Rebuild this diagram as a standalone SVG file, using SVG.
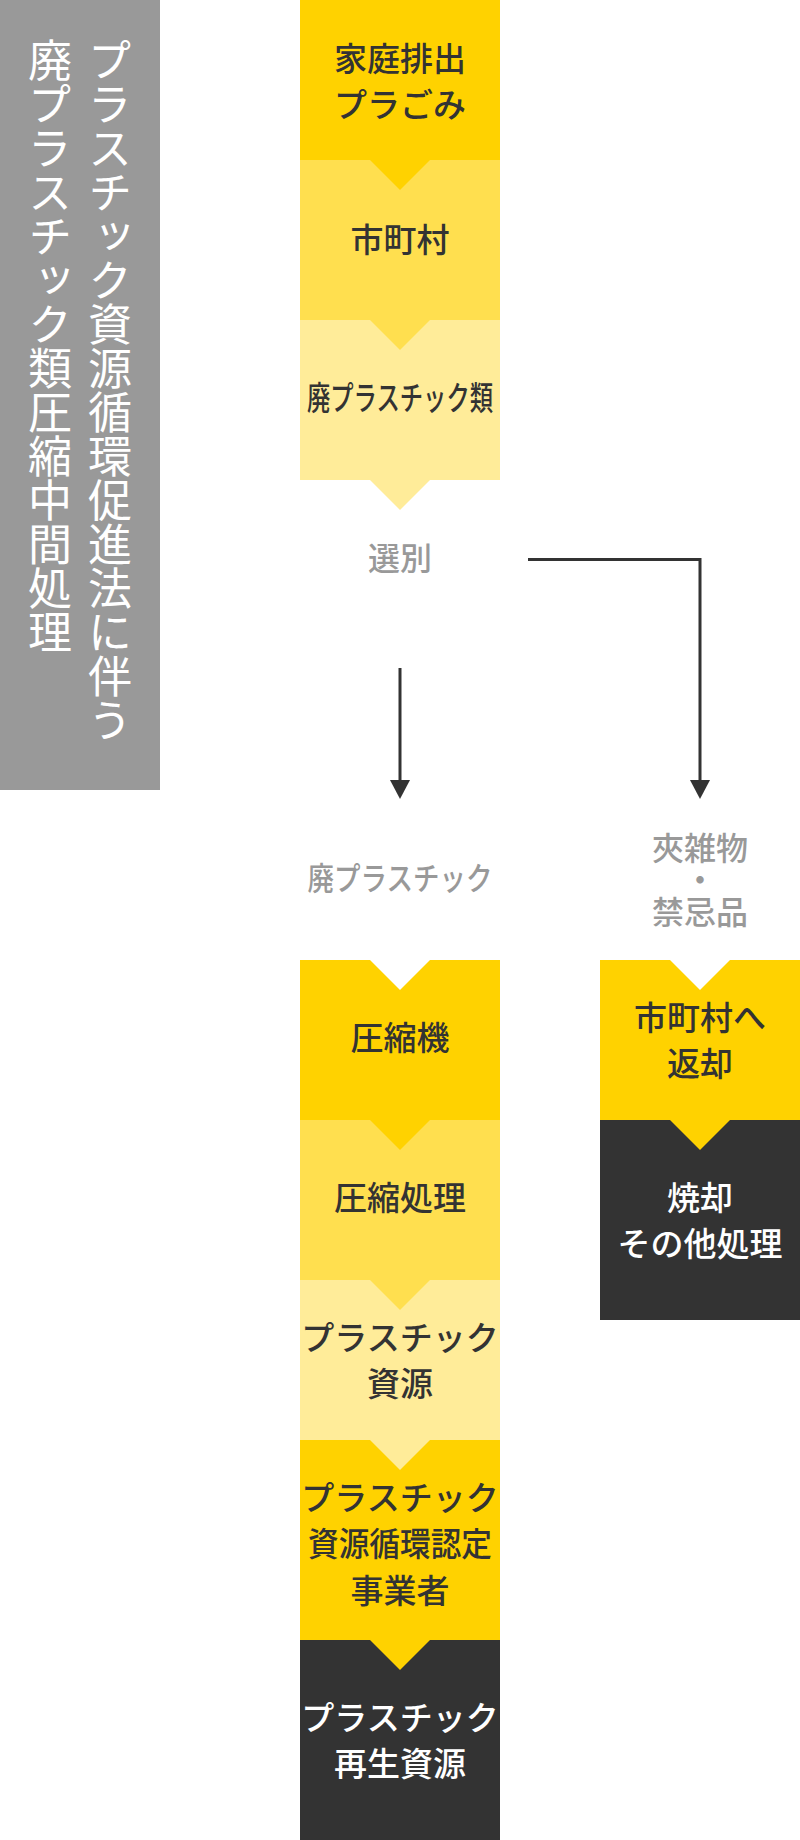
<svg xmlns="http://www.w3.org/2000/svg" width="800" height="1840" viewBox="0 0 800 1840">
  <defs>
    <style>
      .y1 { fill: #FFD200; }
      .y2 { fill: #FFDF4F; }
      .y3 { fill: #FFEC99; }
      .dk { fill: #333333; }
      .wh { fill: #FFFFFF; }
      .t { font-family: "Noto Sans CJK JP", "Noto Sans", sans-serif; font-size: 33px; font-weight: 500; text-anchor: middle; fill: #333333; }
      .tw { fill: #FFFFFF; }
      .g { font-family: "Noto Sans CJK JP", "Noto Sans", sans-serif; font-size: 32px; font-weight: 500; text-anchor: middle; fill: #999999; }
      .v { font-family: "Noto Sans CJK JP", "Noto Sans", sans-serif; font-size: 44px; font-weight: 400; fill: #FFFFFF; writing-mode: vertical-rl; }
      .ln { fill: none; stroke: #333333; stroke-width: 3; }
    </style>
  </defs>

  <g id="side-panel">
    <rect x="0" y="0" width="160" height="790" fill="#999999"/>
    <text class="v" x="110" y="38">プラスチック資源循環促進法に伴う</text>
    <text class="v" x="50" y="38">廃プラスチック類圧縮中間処理</text>
  </g>

  <g id="node-katei">
    <rect class="y1" x="300" y="0" width="200" height="160"/>
    <text class="t" x="400" y="70.5">家庭排出</text>
    <text class="t" x="400" y="116.5">プラごみ</text>
  </g>
  <g id="node-shichouson">
    <rect class="y2" x="300" y="160" width="200" height="160"/>
    <polygon class="y1" points="370,160 430,160 400,190"/>
    <text class="t" x="400" y="251.5">市町村</text>
  </g>
  <g id="node-haipura-rui">
    <rect class="y3" x="300" y="320" width="200" height="160"/>
    <polygon class="y2" points="370,320 430,320 400,350"/>
    <polygon class="y3" points="370,480 430,480 400,510"/>
    <text class="t" x="400" y="409.5" textLength="186" lengthAdjust="spacingAndGlyphs">廃プラスチック類</text>
  </g>
  <g id="node-senbetsu">
    <text class="g" x="400" y="569.5">選別</text>
  </g>
  <g id="node-haipura">
    <text class="g" x="400" y="889.5" textLength="185" lengthAdjust="spacingAndGlyphs">廃プラスチック</text>
  </g>
  <g id="node-kyozatsu">
    <text class="g" x="700" y="859.5">夾雑物</text>
    <text class="g" x="700" y="891.5">・</text>
    <text class="g" x="700" y="923.5">禁忌品</text>
  </g>
  <g id="node-asshukuki">
    <rect class="y1" x="300" y="960" width="200" height="160"/>
    <polygon class="wh" points="370,960 430,960 400,990"/>
    <text class="t" x="400" y="1050">圧縮機</text>
  </g>
  <g id="node-asshuku-shori">
    <rect class="y2" x="300" y="1120" width="200" height="160"/>
    <polygon class="y1" points="370,1120 430,1120 400,1150"/>
    <text class="t" x="400" y="1210">圧縮処理</text>
  </g>
  <g id="node-shigen">
    <rect class="y3" x="300" y="1280" width="200" height="160"/>
    <polygon class="y2" points="370,1280 430,1280 400,1310"/>
    <text class="t" x="400" y="1349.5">プラスチック</text>
    <text class="t" x="400" y="1395.5">資源</text>
  </g>
  <g id="node-nintei">
    <rect class="y1" x="300" y="1440" width="200" height="200"/>
    <polygon class="y3" points="370,1440 430,1440 400,1470"/>
    <text class="t" x="400" y="1510">プラスチック</text>
    <text class="t" x="400" y="1555.5" textLength="184" lengthAdjust="spacingAndGlyphs">資源循環認定</text>
    <text class="t" x="400" y="1602.5">事業者</text>
  </g>
  <g id="node-saisei">
    <rect class="dk" x="300" y="1640" width="200" height="200"/>
    <polygon class="y1" points="370,1640 430,1640 400,1670"/>
    <text class="t tw" x="400" y="1730">プラスチック</text>
    <text class="t tw" x="400" y="1775.5">再生資源</text>
  </g>
  <g id="node-henkyaku">
    <rect class="y1" x="600" y="960" width="200" height="160"/>
    <polygon class="wh" points="670,960 730,960 700,990"/>
    <text class="t" x="700" y="1029.5">市町村へ</text>
    <text class="t" x="700" y="1075.5">返却</text>
  </g>
  <g id="node-shoukyaku">
    <rect class="dk" x="600" y="1120" width="200" height="200"/>
    <polygon class="y1" points="670,1120 730,1120 700,1150"/>
    <text class="t tw" x="700" y="1209.5">焼却</text>
    <text class="t tw" x="700" y="1255.5">その他処理</text>
  </g>

  <g id="connectors">
    <path class="ln" d="M400,668 L400,780"/>
    <path d="M390,780 L410,780 L400,799 Z" fill="#333333"/>
    <path class="ln" d="M528,559.5 L700,559.5 L700,780"/>
    <path d="M690,780 L710,780 L700,799 Z" fill="#333333"/>
  </g>
</svg>
